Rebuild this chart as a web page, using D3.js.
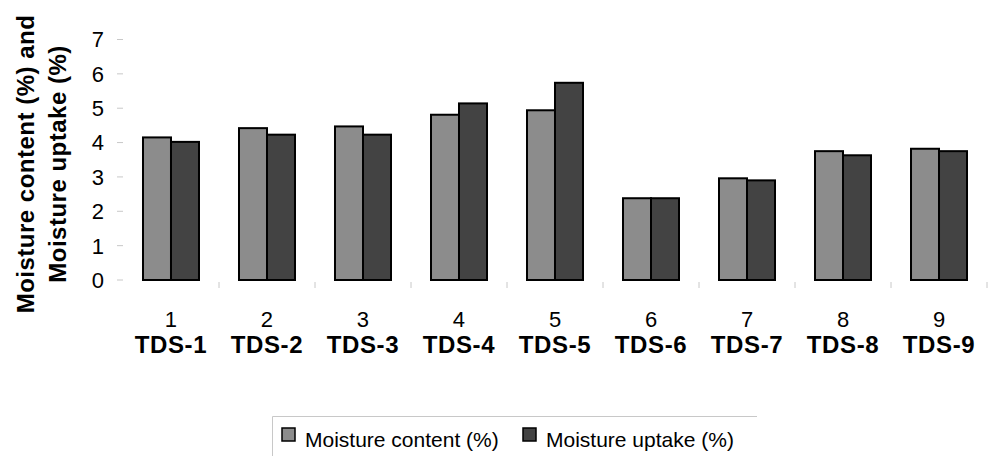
<!DOCTYPE html>
<html><head><meta charset="utf-8">
<script src="https://cdn.jsdelivr.net/npm/d3@7"></script>
<style>
html,body{margin:0;padding:0;background:#fff;}
svg{display:block;font-family:"Liberation Sans",Arial,sans-serif;}
</style></head>
<body>
<svg id="chart" width="988" height="456"></svg>
<script>
const numbers = ["1","2","3","4","5","6","7","8","9"];
const categories = ["TDS-1","TDS-2","TDS-3","TDS-4","TDS-5","TDS-6","TDS-7","TDS-8","TDS-9"];
const moistureContent = [4.15, 4.42, 4.47, 4.81, 4.94, 2.38, 2.96, 3.75, 3.82];
const moistureUptake  = [4.02, 4.23, 4.23, 5.14, 5.74, 2.38, 2.90, 3.63, 3.75];
const seriesNames = ["Moisture content (%)", "Moisture uptake (%)"];
const seriesColors = ["#8c8c8c", "#434343"];
const yTicks = [0,1,2,3,4,5,6,7];

const svg = d3.select("#chart");
const plot = {left:123, right:987, top:39.5, bottom:280};

const x = d3.scaleBand().domain(categories).range([plot.left, plot.right])
  .paddingInner(0.4167).paddingOuter(0.2083);
const xs = d3.scaleBand().domain([0,1]).range([0, x.bandwidth()]);
const y = d3.scaleLinear().domain([0,7]).range([plot.bottom, plot.top]);

// y axis ticks & labels
const yAxis = svg.append("g");
yAxis.selectAll("line").data(yTicks).join("line")
  .attr("x1",117).attr("x2",123)
  .attr("y1",d=>y(d)).attr("y2",d=>y(d))
  .attr("stroke","#c8c8c8").attr("stroke-width",1);
yAxis.selectAll("text").data(yTicks).join("text")
  .attr("x",104).attr("y",d=>y(d)).attr("dy","0.36em")
  .attr("text-anchor","end").attr("font-size",22).attr("fill","#000")
  .text(d=>d);

// category ticks
const step = x.step();
const boundaries = d3.range(1, categories.length+1).map(i => plot.left + i*step);
svg.append("g").selectAll("line").data(boundaries).join("line")
  .attr("x1",d=>d).attr("x2",d=>d).attr("y1",282).attr("y2",288)
  .attr("stroke","#c8c8c8").attr("stroke-width",1);

// bars
const data = categories.map((c,i)=>({cat:c, vals:[moistureContent[i], moistureUptake[i]]}));
const groups = svg.append("g").selectAll("g").data(data).join("g")
  .attr("transform", d=>`translate(${x(d.cat)},0)`);
groups.selectAll("rect").data(d=>d.vals.map((v,k)=>({v,k}))).join("rect")
  .attr("x", d=>xs(d.k)).attr("width", xs.bandwidth())
  .attr("y", d=>y(d.v)).attr("height", d=>y(0)-y(d.v))
  .attr("fill", d=>seriesColors[d.k]).attr("stroke","#000").attr("stroke-width",2);

// x labels
const xl = svg.append("g");
xl.selectAll("text.num").data(categories).join("text").attr("class","num")
  .attr("x",d=>x(d)+x.bandwidth()/2).attr("y",327)
  .attr("text-anchor","middle").attr("font-size",22).text((d,i)=>numbers[i]);
xl.selectAll("text.cat").data(categories).join("text").attr("class","cat")
  .attr("x",d=>x(d)+x.bandwidth()/2).attr("y",353)
  .attr("text-anchor","middle").attr("font-size",24).attr("font-weight","bold")
  .attr("letter-spacing","0.6px").text(d=>d);

// y axis title
const yt = svg.append("text").attr("transform","translate(34,164) rotate(-90)")
  .attr("text-anchor","middle").attr("font-size",24).attr("font-weight","bold")
  .attr("letter-spacing","0.5px");
yt.append("tspan").attr("x",0).attr("y",0).text("Moisture content (%) and");
yt.append("tspan").attr("x",0).attr("y",32).text("Moisture uptake (%)");

// legend
const lg = svg.append("g");
lg.append("path").attr("d","M272.5,456 V416.5 H757").attr("fill","none")
  .attr("stroke","#c8c8c8").attr("stroke-width",1);
const legX = [282, 523];
seriesNames.forEach((n,k)=>{
  lg.append("rect").attr("x",legX[k]).attr("y",428).attr("width",13).attr("height",13)
    .attr("fill",seriesColors[k]).attr("stroke","#000").attr("stroke-width",1.5);
  lg.append("text").attr("x",legX[k]+23).attr("y",447).attr("font-size",21).text(n);
});
</script>
</body></html>
